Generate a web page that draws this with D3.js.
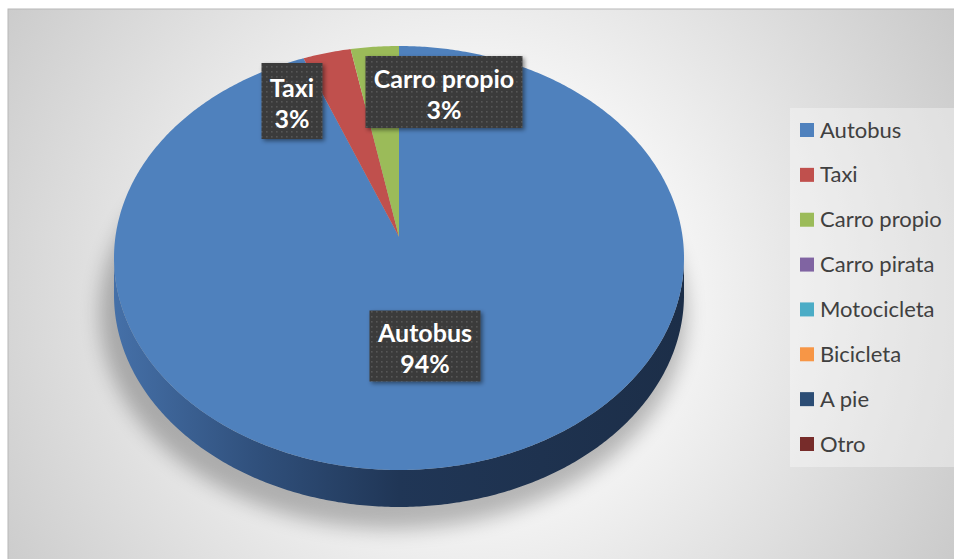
<!DOCTYPE html>
<html>
<head>
<meta charset="utf-8">
<script src="https://cdn.jsdelivr.net/npm/d3@7"></script>
<style>
  html, body { margin: 0; padding: 0; background: #ffffff; }
  svg { display: block; }
</style>
</head>
<body>
<svg id="chart" width="954" height="559"></svg>
<script>
// Medio de transporte utilizado
const categories = ["Autobus", "Taxi", "Carro propio", "Carro pirata", "Motocicleta", "Bicicleta", "A pie", "Otro"];
const values = [94, 3, 3, 0, 0, 0, 0, 0];
const colors = ["#4f81bd", "#c0504d", "#9bbb59", "#8064a2", "#4bacc6", "#f79646", "#2c4d75", "#772c2a"];

const W = 954, H = 559;
const svg = d3.select("#chart");
const defs = svg.append("defs");

// chart area background
const bg = defs.append("radialGradient").attr("id", "bgGrad")
  .attr("gradientUnits", "userSpaceOnUse")
  .attr("cx", 470).attr("cy", 290).attr("r", 620);
bg.append("stop").attr("offset", "0%").attr("stop-color", "#ffffff");
bg.append("stop").attr("offset", "35%").attr("stop-color", "#f4f4f4");
bg.append("stop").attr("offset", "100%").attr("stop-color", "#c2c2c2");

svg.append("rect").attr("x", 8).attr("y", 9).attr("width", W).attr("height", H)
  .attr("fill", "url(#bgGrad)").attr("stroke", "#b8b8b8").attr("stroke-width", 1);

// filters
const blur = defs.append("filter").attr("id", "pieShadow")
  .attr("x", "-30%").attr("y", "-30%").attr("width", "160%").attr("height", "160%");
blur.append("feGaussianBlur").attr("stdDeviation", 10);

const boxShadow = defs.append("filter").attr("id", "boxShadow")
  .attr("x", "-20%").attr("y", "-20%").attr("width", "150%").attr("height", "150%");
boxShadow.append("feDropShadow").attr("dx", 2).attr("dy", 2).attr("stdDeviation", 2)
  .attr("flood-color", "#000").attr("flood-opacity", 0.45);

// dotted fill for data labels
const pat = defs.append("pattern").attr("id", "dots").attr("patternUnits", "userSpaceOnUse")
  .attr("width", 5).attr("height", 5);
pat.append("rect").attr("width", 5).attr("height", 5).attr("fill", "#3b3b3b");
pat.append("rect").attr("x", 1).attr("y", 1).attr("width", 1.6).attr("height", 1.6).attr("fill", "#575757");

// side wall gradient
const sideGrad = defs.append("linearGradient").attr("id", "sideGrad")
  .attr("gradientUnits", "userSpaceOnUse").attr("x1", 114).attr("x2", 684).attr("y1", 0).attr("y2", 0);
[["0%", "#4570a8"], ["25%", "#30507c"], ["50%", "#203656"], ["100%", "#1c2e48"]]
  .forEach(([o, c]) => sideGrad.append("stop").attr("offset", o).attr("stop-color", c));

// perspective projection of the pie disk onto the screen
const cx = 399, cy = 258, rx = 285, ry = 212, depth = 37, k = -0.1;
function proj(theta, r, dy) {
  const u = r * Math.sin(theta), v = -r * Math.cos(theta);
  const d = 1 + k * v;
  return [cx + rx * u * Math.sqrt(1 - k * k) / d, cy + ry * (v + k) / d + (dy || 0)];
}
function arcPoints(a0, a1, dy) {
  const n = Math.max(2, Math.ceil(Math.abs(a1 - a0) / 0.01));
  return d3.range(n + 1).map(i => proj(a0 + (a1 - a0) * i / n, 1, dy));
}
const line = d3.line();

const pie = d3.pie().sort(null).value(d => d)(values);
const total = d3.sum(values);

// soft shadow under the pie
svg.append("ellipse")
  .attr("cx", cx - 6).attr("cy", cy + depth + 18)
  .attr("rx", rx + 8).attr("ry", ry + 4)
  .attr("fill", "#000").attr("opacity", 0.26)
  .attr("filter", "url(#pieShadow)");

// front wall (only the first slice covers the visible front rim)
const tA = Math.acos(k), tB = 2 * Math.PI - Math.acos(k);
pie.forEach((p) => {
  const a0 = Math.max(p.startAngle, tA), a1 = Math.min(p.endAngle, tB);
  if (a1 <= a0) return;
  const top = arcPoints(a0, a1, 0);
  const bot = arcPoints(a1, a0, depth);
  svg.append("path").attr("d", line(top.concat(bot)) + "Z")
    .attr("fill", "url(#sideGrad)");
});

// top surface slices
pie.forEach((p, i) => {
  if (p.endAngle - p.startAngle <= 0) return;
  const pts = [proj(0, 0)].concat(arcPoints(p.startAngle, p.endAngle, 0));
  svg.append("path").attr("d", line(pts) + "Z").attr("fill", colors[i]);
});

// data labels
const labelPos = [
  { x: 425, y: 346, w: 111, h: 71 },
  { x: 292, y: 101, w: 61, h: 76 },
  { x: 444, y: 92, w: 157, h: 72 }
];
const labelFont = "Lato, 'Open Sans', sans-serif";
pie.forEach((p, i) => {
  if (values[i] <= 0 || !labelPos[i]) return;
  const lp = labelPos[i];
  const g = svg.append("g");
  g.append("rect").attr("x", lp.x - lp.w / 2).attr("y", lp.y - lp.h / 2)
    .attr("width", lp.w).attr("height", lp.h)
    .attr("fill", "url(#dots)").attr("filter", "url(#boxShadow)");
  const pct = Math.round(values[i] / total * 100) + "%";
  const t = g.append("text").attr("text-anchor", "middle")
    .attr("font-family", labelFont).attr("font-weight", "bold")
    .attr("font-size", 25).attr("fill", "#ffffff");
  t.append("tspan").attr("x", lp.x).attr("y", lp.y - 4).text(categories[i]);
  t.append("tspan").attr("x", lp.x).attr("y", lp.y + 27).text(pct);
});

// legend
const legY = d3.scalePoint().domain(categories).range([130, 444]);
svg.append("rect").attr("x", 790).attr("y", 108).attr("width", 170).attr("height", 359)
  .attr("fill", "#ffffff").attr("opacity", 0.35);
const leg = svg.append("g");
categories.forEach((c, i) => {
  const y = legY(c);
  leg.append("rect").attr("x", 800).attr("y", y - 7).attr("width", 14).attr("height", 14).attr("fill", colors[i]);
  leg.append("text").attr("x", 820).attr("y", y + 7.5)
    .attr("font-family", "Lato, 'Open Sans', sans-serif").attr("font-size", 22)
    .attr("fill", "#404040").text(c);
});
</script>
</body>
</html>
